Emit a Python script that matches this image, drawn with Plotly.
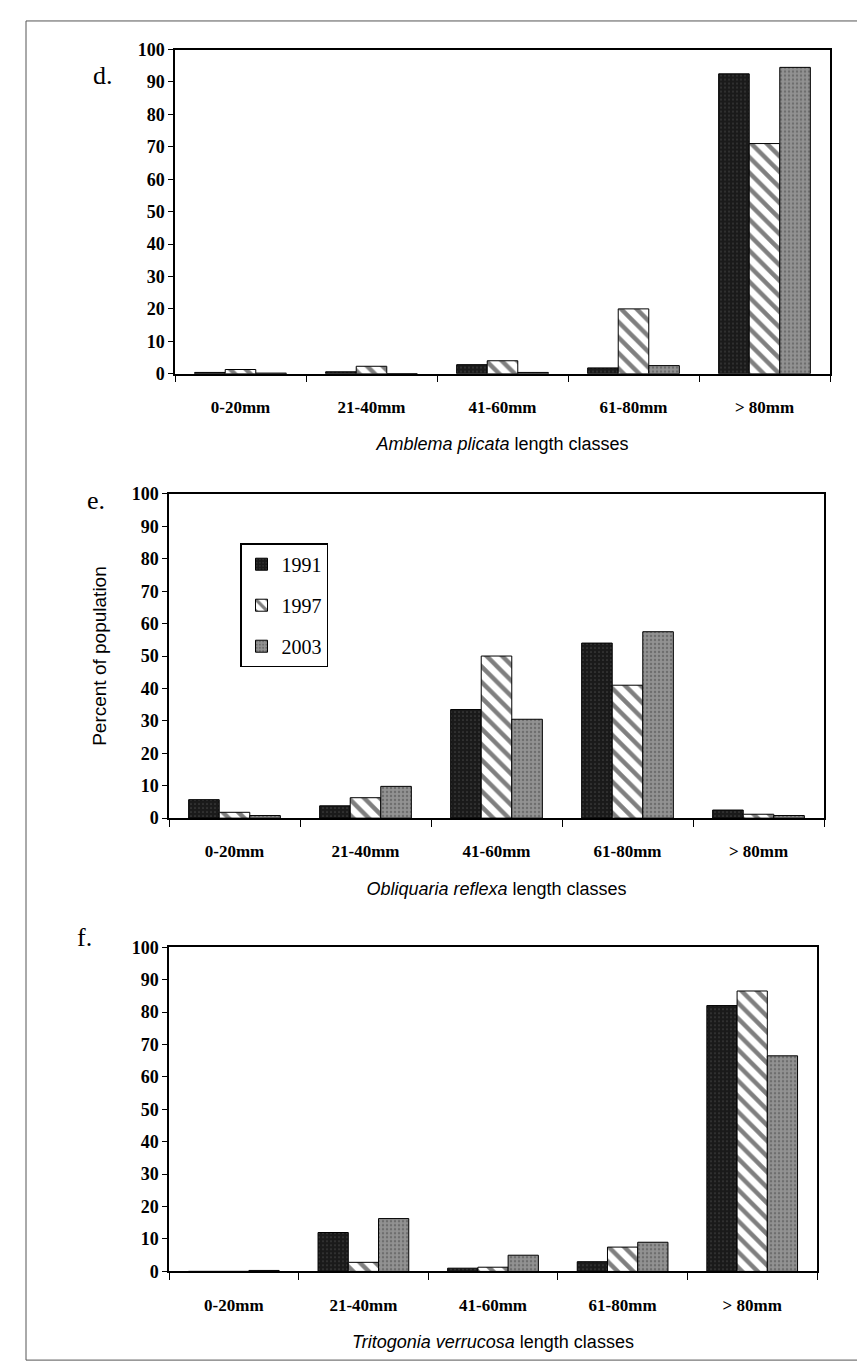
import plotly.graph_objects as go

W, H = 865, 1369

categories = ["0-20mm", "21-40mm", "41-60mm", "61-80mm", "> 80mm"]
years = ["1991", "1997", "2003"]

# Panel d: Amblema plicata
d_1991 = [0.4, 0.6, 2.8, 1.8, 92.5]
d_1997 = [1.3, 2.3, 4.0, 20.0, 71.0]
d_2003 = [0.2, 0.0, 0.4, 2.5, 94.5]

# Panel e: Obliquaria reflexa
e_1991 = [5.7, 3.8, 33.5, 54.0, 2.5]
e_1997 = [1.8, 6.3, 50.0, 41.0, 1.2]
e_2003 = [0.8, 9.8, 30.5, 57.5, 0.8]

# Panel f: Tritogonia verrucosa
f_1991 = [0.0, 12.0, 1.0, 3.0, 82.0]
f_1997 = [0.0, 2.8, 1.3, 7.5, 86.5]
f_2003 = [0.3, 16.3, 5.0, 9.0, 66.5]

panels = [
    ("d.", "Amblema plicata", [d_1991, d_1997, d_2003]),
    ("e.", "Obliquaria reflexa", [e_1991, e_1997, e_2003]),
    ("f.", "Tritogonia verrucosa", [f_1991, f_1997, f_2003]),
]

yticks = list(range(0, 101, 10))

def fx(x):
    return x / W

def fy(y):
    return 1 - y / H

# pixel boxes of each plot area: (left, right, top(100), bottom(0))
boxes = [(167, 822, 32, 361), (161, 816, 483, 812), (161, 809, 943, 1272)]
letters_pos = [(83, 42), (77, 490), (67, 950)]

styles = [
    dict(color="#1a1a1a", pattern=dict(shape=".", fgcolor="#6a6a6a", size=4, solidity=0.15)),
    dict(color="white", pattern=dict(shape="\\", fgcolor="black", size=11, solidity=0.4)),
    dict(color="#929292", pattern=dict(shape=".", fgcolor="#4a4a4a", size=4, solidity=0.3)),
]

fig = go.Figure()
serif = "Liberation Serif"
sans = "Liberation Sans"

for i, (letter, species, series) in enumerate(panels):
    xa = "x" if i == 0 else f"x{i+1}"
    ya = "y" if i == 0 else f"y{i+1}"
    for j, vals in enumerate(series):
        st = styles[j]
        fig.add_trace(go.Bar(
            x=categories, y=vals, name=years[j],
            xaxis=xa, yaxis=ya,
            legendgroup=years[j],
            showlegend=(i == 1),
            marker=dict(color=st["color"], pattern=st["pattern"],
                        line=dict(color="black", width=1)),
        ))
    l, r, t, b = boxes[i]
    xkey = "xaxis" if i == 0 else f"xaxis{i+1}"
    ykey = "yaxis" if i == 0 else f"yaxis{i+1}"
    fig.layout[xkey] = dict(
        domain=[fx(l), fx(r)], anchor=ya,
        showline=True, linecolor="black", linewidth=1.5, mirror=True,
        ticks="outside", tickson="boundaries", ticklen=7, tickcolor="black",
        ticklabelstandoff=17,
        tickfont=dict(family=serif, size=17, color="black", weight="bold"),
        showgrid=False,
        title=dict(text=f"<i>{species}</i> length classes",
                   font=dict(family=sans, size=18, color="black"), standoff=22),
    )
    yd = dict(
        domain=[fy(b), fy(t)], anchor=xa,
        range=[0, 100], tickvals=yticks,
        showline=True, linecolor="black", linewidth=1.5, mirror=True,
        ticks="outside", ticklen=5, tickcolor="black",
        tickfont=dict(family=serif, size=18, color="black", weight="bold"),
        showgrid=False, zeroline=False,
    )
    if i == 1:
        yd["title"] = dict(text="Percent of population",
                           font=dict(family=sans, size=19, color="black"), standoff=20)
    fig.layout[ykey] = yd
    lx, ly = letters_pos[i]
    fig.add_annotation(x=fx(lx), y=fy(ly), xref="paper", yref="paper",
                       text=letter, showarrow=False,
                       font=dict(family=serif, size=26, color="black"))

fig.add_shape(type="rect", xref="paper", yref="paper",
              x0=fx(18), x1=fx(850), y0=fy(1362), y1=fy(3),
              line=dict(color="#555555", width=1))

fig.update_layout(
    width=W, height=H,
    margin=dict(l=0, r=0, t=0, b=0),
    paper_bgcolor="white", plot_bgcolor="white",
    barmode="group", bargap=0.3, bargroupgap=0,
    legend=dict(x=fx(232), y=fy(533), xanchor="left", yanchor="top",
                bordercolor="black", borderwidth=1.5, bgcolor="white",
                font=dict(family=serif, size=20, color="black"),
                tracegroupgap=12, itemwidth=30),
)

fig.write_html("out.html")
